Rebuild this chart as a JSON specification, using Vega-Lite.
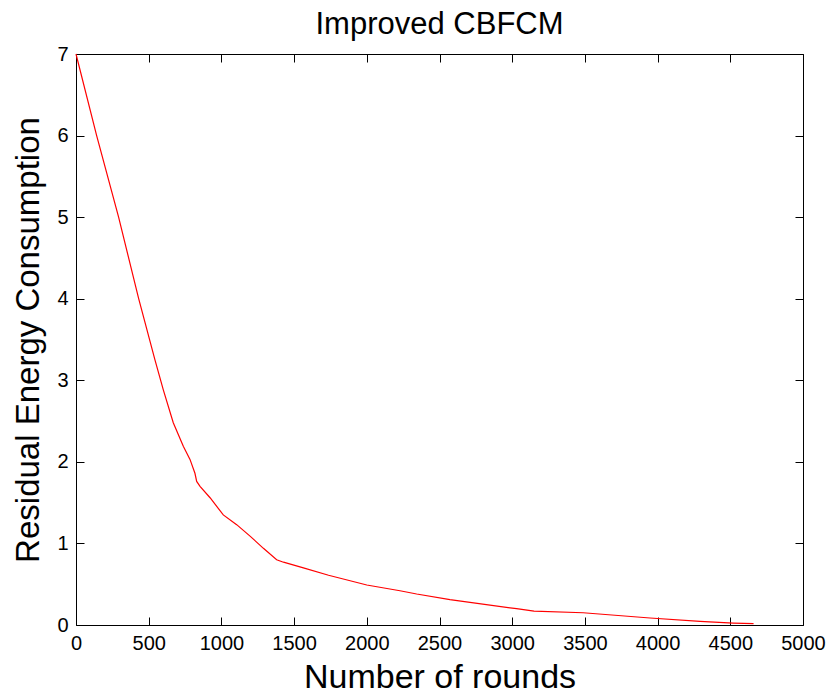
{
  "$schema": "https://vega.github.io/schema/vega-lite/v6.json",
  "width": 727,
  "height": 571,
  "autosize": "none",
  "padding": {"left": 76, "top": 54, "right": 26, "bottom": 71},
  "background": "white",
  "config": {
    "font": "Liberation Sans",
    "view": {"stroke": null},
    "axis": {
      "domainColor": "#000000",
      "domainWidth": 1,
      "tickColor": "#000000",
      "tickWidth": 1,
      "tickSize": -8,
      "grid": false,
      "labelColor": "#000000",
      "titleColor": "#000000",
      "labelFont": "Liberation Sans",
      "titleFont": "Liberation Sans",
      "labelFontSize": 20,
      "titleFontWeight": "normal",
      "labelFlush": false,
      "labelOverlap": false,
      "format": "d"
    }
  },
  "title": {
    "text": "Improved CBFCM",
    "fontSize": 31,
    "fontWeight": "normal",
    "font": "Liberation Sans",
    "color": "#000000",
    "anchor": "middle",
    "offset": 3
  },
  "data": {
    "values": [
      {"rounds": 0, "energy": 7.0},
      {"rounds": 142, "energy": 6.0},
      {"rounds": 293, "energy": 5.0},
      {"rounds": 431, "energy": 4.0},
      {"rounds": 543, "energy": 3.25},
      {"rounds": 601, "energy": 2.88},
      {"rounds": 669, "energy": 2.48},
      {"rounds": 738, "energy": 2.19},
      {"rounds": 784, "energy": 2.03},
      {"rounds": 818, "energy": 1.86},
      {"rounds": 830, "energy": 1.76},
      {"rounds": 853, "energy": 1.70},
      {"rounds": 922, "energy": 1.56},
      {"rounds": 1013, "energy": 1.35},
      {"rounds": 1105, "energy": 1.23},
      {"rounds": 1197, "energy": 1.09},
      {"rounds": 1289, "energy": 0.94},
      {"rounds": 1380, "energy": 0.80},
      {"rounds": 1427, "energy": 0.77},
      {"rounds": 1564, "energy": 0.70},
      {"rounds": 1737, "energy": 0.61},
      {"rounds": 2000, "energy": 0.49},
      {"rounds": 2228, "energy": 0.42},
      {"rounds": 2343, "energy": 0.38},
      {"rounds": 2572, "energy": 0.31},
      {"rounds": 3030, "energy": 0.20},
      {"rounds": 3150, "energy": 0.17},
      {"rounds": 3488, "energy": 0.15},
      {"rounds": 3948, "energy": 0.086},
      {"rounds": 4292, "energy": 0.044},
      {"rounds": 4521, "energy": 0.024},
      {"rounds": 4660, "energy": 0.016}
    ]
  },
  "layer": [
    {
      "mark": {"type": "line", "color": "#ff0000", "strokeWidth": 1.2},
      "encoding": {
        "x": {
          "field": "rounds", "type": "quantitative",
          "scale": {"domain": [0, 5000], "nice": false, "zero": false},
          "axis": {"orient": "bottom", "values": [0, 500, 1000, 1500, 2000, 2500, 3000, 3500, 4000, 4500, 5000], "format": "d", "title": "Number of rounds", "titleFontSize": 34, "labelPadding": 16, "titlePadding": 7}
        },
        "y": {
          "field": "energy", "type": "quantitative",
          "scale": {"domain": [0, 7], "nice": false, "zero": false},
          "axis": {"orient": "left", "values": [0, 1, 2, 3, 4, 5, 6, 7], "format": "d", "title": "Residual Energy Consumption", "titleFontSize": 33, "labelPadding": 16, "titlePadding": 11}
        }
      }
    },
    {
      "mark": {"type": "line", "opacity": 0},
      "encoding": {
        "x": {
          "field": "rounds", "type": "quantitative",
          "axis": {"orient": "top", "values": [0, 500, 1000, 1500, 2000, 2500, 3000, 3500, 4000, 4500, 5000], "labels": false, "title": null}
        },
        "y": {
          "field": "energy", "type": "quantitative",
          "axis": {"orient": "right", "values": [0, 1, 2, 3, 4, 5, 6, 7], "labels": false, "title": null}
        }
      }
    }
  ],
  "resolve": {"axis": {"x": "independent", "y": "independent"}}
}
